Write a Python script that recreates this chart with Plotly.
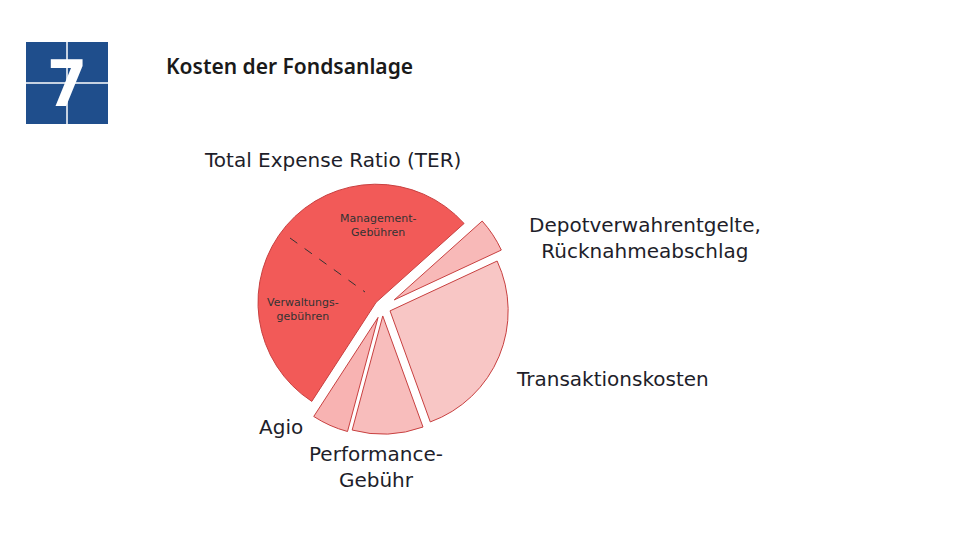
import plotly.graph_objects as go

labels = ["TER", "Depotverwahrentgelte", "Transaktionskosten", "Performance-Gebühr", "Agio"]
values = [54.2, 4.7, 26.4, 9.7, 5.0]
colors = ["#f25a58", "#f8b9b8", "#f8c6c5", "#f8bdbc", "#f8b3b2"]

W, H = 960, 540
OFF = 8  # page body margin
def pt(x, y):
    return (x - OFF) / W, 1 - (y - OFF) / H

def px(x, y):
    a, b = pt(x, y)
    return dict(x=a, y=b, xref="paper", yref="paper", xanchor="center", yanchor="middle")

fig = go.Figure(go.Pie(
    labels=labels, values=values, sort=False, direction="clockwise", rotation=213,
    marker=dict(colors=colors, line=dict(color="#c84040", width=1)),
    pull=[0.07, 0.12, 0.07, 0.07, 0.09],
    textinfo="none", hoverinfo="label+percent", showlegend=False,
    domain=dict(x=[0.245, 0.535], y=[0.2, 0.69]),
))

def line(a, b, **kw):
    x0, y0 = pt(*a)
    x1, y1 = pt(*b)
    return dict(type="line", xref="paper", yref="paper", x0=x0, y0=y0, x1=x1, y1=y1, **kw)

bx0, by0 = pt(26, 124)
bx1, by1 = pt(108, 42)
shapes = [
    dict(type="rect", xref="paper", yref="paper", x0=bx0, x1=bx1, y0=by0, y1=by1,
         fillcolor="#1f4e8c", line=dict(width=0)),
    line((26, 83), (108, 83), line=dict(color="white", width=1.5)),
    line((67, 42), (67, 124), line=dict(color="white", width=1.5)),
    line((290, 238), (365, 292), line=dict(color="#333", width=1, dash="dash")),
]

def left(d):
    d["xanchor"] = "left"
    return d

big = dict(size=20, color="#1e1e2a", family="DejaVu Sans")
ann = [
    dict(text="<b>7</b>", font=dict(size=64, color="white", family="DejaVu Sans Condensed"), showarrow=False, **px(67, 84)),
    dict(text="Kosten der Fondsanlage", font=dict(size=21, color="#1a1a1a", family="Noto Sans", weight=600),
         showarrow=False, **left(px(164, 66))),
    dict(text="Total Expense Ratio (TER)", font=big, showarrow=False, **left(px(202, 160))),
    dict(text="Depotverwahrentgelte,<br>Rücknahmeabschlag", font=big, showarrow=False, **px(645, 238)),
    dict(text="Transaktionskosten", font=big, showarrow=False, **left(px(514, 379))),
    dict(text="Agio", font=big, showarrow=False, **left(px(257, 427))),
    dict(text="Performance-<br>Gebühr", font=big, showarrow=False, **px(376, 467)),
    dict(text="Management-<br>Gebühren", font=dict(size=11, color="#333", family="DejaVu Sans"),
         showarrow=False, **px(378, 226)),
    dict(text="Verwaltungs-<br>gebühren", font=dict(size=11, color="#333", family="DejaVu Sans"),
         showarrow=False, **px(303, 309)),
]

fig.update_layout(width=W, height=H, margin=dict(l=0, r=0, t=0, b=0),
                  paper_bgcolor="white", plot_bgcolor="white",
                  shapes=shapes, annotations=ann)
fig.write_html("out.html")
